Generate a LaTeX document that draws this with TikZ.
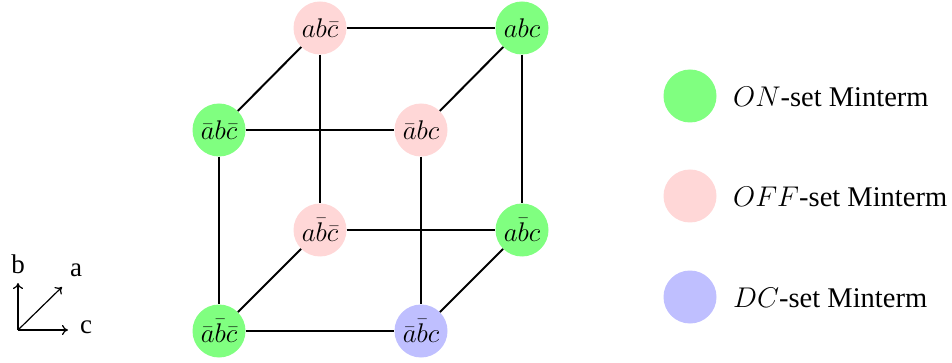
\RequirePackage{fix-cm}
\documentclass[tikz,border=0pt]{standalone}
\usepackage{fontspec}
\setmainfont{Liberation Serif}
\usetikzlibrary{arrows.meta}
\definecolor{onc}{RGB}{128,255,128}
\definecolor{offc}{RGB}{255,215,215}
\definecolor{dcc}{RGB}{191,191,255}
\tikzset{
  mt/.style={circle,minimum size=53pt,inner sep=0pt,font=\fontsize{27}{32}\selectfont},
  on/.style={mt,fill=onc},
  off/.style={mt,fill=offc},
  dc/.style={mt,fill=dcc},
  edge/.style={line width=2pt},
  axis/.style={line width=1.2pt,-{To[length=6pt,width=10pt]}},
  lbl/.style={font=\fontsize{27}{32}\selectfont,inner sep=0pt},
  leg/.style={font=\fontsize{28.5}{34}\selectfont,anchor=west,inner sep=0pt}
}
\begin{document}
\begin{tikzpicture}[x=1pt,y=-1pt]
\useasboundingbox (0,0) rectangle (952,363);
% cube nodes
\node[off] (abnc) at (320,28) {$ab\bar{c}$};
\node[on]  (abc)  at (522,28) {$abc$};
\node[on]  (nabnc) at (219,130) {$\bar{a}b\bar{c}$};
\node[off] (nabc) at (421,130) {$\bar{a}bc$};
\node[off] (anbnc) at (320,230) {$a\bar{b}\bar{c}$};
\node[on]  (anbc) at (522,230) {$a\bar{b}c$};
\node[on]  (nanbnc) at (219,331) {$\bar{a}\bar{b}\bar{c}$};
\node[dc]  (nanbc) at (421,331) {$\bar{a}\bar{b}c$};
% edges
\draw[edge] (abnc) -- (abc);
\draw[edge] (abnc) -- (anbnc);
\draw[edge] (abc) -- (anbc);
\draw[edge] (anbnc) -- (anbc);
\draw[edge] (nabnc) -- (nabc);
\draw[edge] (nabnc) -- (nanbnc);
\draw[edge] (nabc) -- (nanbc);
\draw[edge] (nanbnc) -- (nanbc);
\draw[edge] (nabnc) -- (abnc);
\draw[edge] (nabc) -- (abc);
\draw[edge] (nanbnc) -- (anbnc);
\draw[edge] (nanbc) -- (anbc);
% axes
\coordinate (o) at (18,330);
\coordinate (bt) at (18,283);
\coordinate (ct) at (68,330);
\coordinate (at) at (62,287);
\draw[axis] (o) -- (bt);
\draw[axis] (o) -- (ct);
\draw[axis] (o) -- (at);
\node[lbl] (bl) at (18,264) {b};
\node[lbl] (al) at (76,270) {a};
\node[lbl] (cl) at (86,327) {c};
% legend
\node[mt,fill=onc] (l1) at (690,96) {};
\node[mt,fill=offc] (l2) at (690,196) {};
\node[mt,fill=dcc] (l3) at (690,297) {};
\node[leg] (t1) at (733,97) {$ON$-set Minterm};
\node[leg] (t2) at (733,197) {$OFF$-set Minterm};
\node[leg] (t3) at (733,298) {$DC$-set Minterm};
\end{tikzpicture}
\end{document}
